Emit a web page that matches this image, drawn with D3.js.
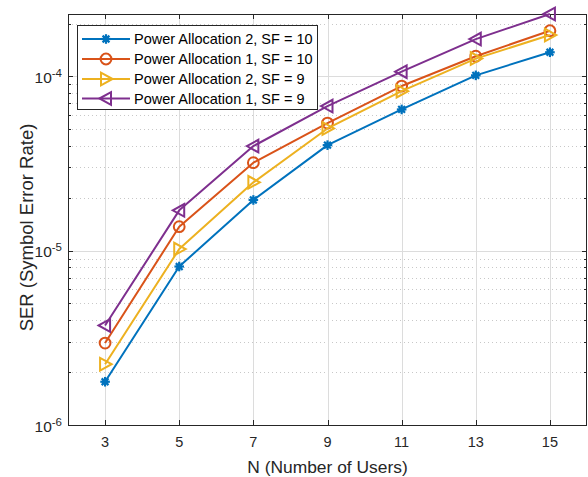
<!DOCTYPE html>
<html>
<head>
<meta charset="utf-8">
<script src="https://cdn.jsdelivr.net/npm/d3@7"></script>
<style>
  html, body { margin: 0; padding: 0; background: #fff; }
  svg { display: block; font-family: "Liberation Sans", Arial, Helvetica, sans-serif; }
</style>
</head>
<body>
<svg id="chart" width="588" height="477"></svg>
<script>
// ---- data ----
const users = [3, 5, 7, 9, 11, 13, 15];
const pa2sf10 = [1.77e-6, 8.1e-6, 1.95e-5, 4.02e-5, 6.44e-5, 1.01e-4, 1.37e-4];
const pa1sf10 = [2.95e-6, 1.37e-5, 3.19e-5, 5.38e-5, 8.77e-5, 1.30e-4, 1.82e-4];
const pa2sf9  = [2.23e-6, 1.02e-5, 2.46e-5, 5.01e-5, 8.2e-5, 1.26e-4, 1.72e-4];
const pa1sf9  = [3.72e-6, 1.70e-5, 3.97e-5, 6.73e-5, 1.06e-4, 1.63e-4, 2.27e-4];
const seriesNames = ["Power Allocation 2, SF = 10", "Power Allocation 1, SF = 10", "Power Allocation 2, SF = 9", "Power Allocation 1, SF = 9"];
const xTicks = [3, 5, 7, 9, 11, 13, 15];
const yDecades = [-6, -5, -4];
const xLabel = "N (Number of Users)";
const yLabel = "SER (Symbol Error Rate)";

const series = [
  { name: seriesNames[0], values: pa2sf10, color: "#0072BD", marker: "asterisk" },
  { name: seriesNames[1], values: pa1sf10, color: "#D95319", marker: "circle" },
  { name: seriesNames[2], values: pa2sf9,  color: "#EDB120", marker: "triRight" },
  { name: seriesNames[3], values: pa1sf9,  color: "#7E2F8E", marker: "triLeft" }
];

// ---- layout ----
const L = 68, R = 587, T = 14, B = 425;
const svg = d3.select("#chart");
const x = d3.scaleLinear().domain([2, 16]).range([L, R]);
const y = d3.scaleLog().domain([1e-6, 2.27e-4]).range([B, T]);

const axisColor = "#262626";
const gridColor = "#dcdcdc";

// grid
const g = svg.append("g");
const minorVals = [];
yDecades.forEach(d => { for (let m = 2; m <= 9; m++) { const v = m * Math.pow(10, d); if (v <= y.domain()[1]) minorVals.push(v); } });
g.selectAll(".ymin").data(minorVals).enter().append("line")
  .attr("x1", L).attr("x2", R)
  .attr("y1", d => Math.round(y(d)) + 0.5).attr("y2", d => Math.round(y(d)) + 0.5)
  .attr("stroke", "#c8c8c8").attr("stroke-width", 1).attr("stroke-dasharray", "1,3");
g.selectAll(".ymaj").data(yDecades.map(d => Math.pow(10, d))).enter().append("line")
  .attr("x1", L).attr("x2", R)
  .attr("y1", d => Math.round(y(d)) + 0.5).attr("y2", d => Math.round(y(d)) + 0.5)
  .attr("stroke", gridColor).attr("stroke-width", 1);
g.selectAll(".xmaj").data(xTicks).enter().append("line")
  .attr("y1", T).attr("y2", B)
  .attr("x1", d => Math.round(x(d)) + 0.5).attr("x2", d => Math.round(x(d)) + 0.5)
  .attr("stroke", gridColor).attr("stroke-width", 1);

// axes box
svg.append("rect").attr("x", L + 0.5).attr("y", T + 0.5).attr("width", R - L - 1).attr("height", B - T)
  .attr("fill", "none").attr("stroke", axisColor).attr("stroke-width", 1);

// ticks (inside)
const tk = svg.append("g").attr("stroke", axisColor).attr("stroke-width", 1);
xTicks.forEach(v => {
  const px = Math.round(x(v)) + 0.5;
  tk.append("line").attr("x1", px).attr("x2", px).attr("y1", B).attr("y2", B - 5);
  tk.append("line").attr("x1", px).attr("x2", px).attr("y1", T).attr("y2", T + 5);
});
yDecades.map(d => Math.pow(10, d)).forEach(v => {
  const py = Math.round(y(v)) + 0.5;
  tk.append("line").attr("x1", L).attr("x2", L + 5).attr("y1", py).attr("y2", py);
  tk.append("line").attr("x1", R).attr("x2", R - 5).attr("y1", py).attr("y2", py);
});
minorVals.forEach(v => {
  const py = Math.round(y(v)) + 0.5;
  tk.append("line").attr("x1", L).attr("x2", L + 3).attr("y1", py).attr("y2", py);
  tk.append("line").attr("x1", R).attr("x2", R - 3).attr("y1", py).attr("y2", py);
});

// tick labels
svg.selectAll(".xl").data(xTicks).enter().append("text")
  .attr("x", d => x(d)).attr("y", 447)
  .attr("text-anchor", "middle").attr("font-size", 14.5).attr("fill", axisColor)
  .text(d => d);
yDecades.forEach(d => {
  const t = svg.append("text").attr("x", 62).attr("y", y(Math.pow(10, d)) + 6.5)
    .attr("text-anchor", "end").attr("font-size", 15.5).attr("fill", axisColor);
  t.append("tspan").text("10");
  t.append("tspan").attr("dy", -6).attr("font-size", 11.5).text(String(d));
});

// axis labels
svg.append("text").attr("x", (L + R) / 2).attr("y", 473)
  .attr("text-anchor", "middle").attr("font-size", 17.4).attr("fill", axisColor).text(xLabel);
svg.append("text").attr("transform", `translate(33,${(T + B) / 2 + 8}) rotate(-90)`)
  .attr("text-anchor", "middle").attr("font-size", 18.5).attr("fill", axisColor).text(yLabel);

// markers
function drawMarker(sel, type, color, cx, cy) {
  const s = sel.append("g").attr("transform", `translate(${cx},${cy})`);
  if (type === "asterisk") {
    const r = 4.8;
    const a = r * Math.SQRT1_2;
    s.append("line").attr("x1", 0).attr("y1", -r).attr("x2", 0).attr("y2", r);
    s.append("line").attr("x1", -r).attr("y1", 0).attr("x2", r).attr("y2", 0);
    s.append("line").attr("x1", -a).attr("y1", -a).attr("x2", a).attr("y2", a);
    s.append("line").attr("x1", -a).attr("y1", a).attr("x2", a).attr("y2", -a);
    s.append("circle").attr("r", 3).attr("fill", color).attr("stroke", "none");
    s.selectAll("line").attr("stroke", color).attr("stroke-width", 2.2);
  } else if (type === "circle") {
    s.append("circle").attr("r", 5.4).attr("fill", "none").attr("stroke", color).attr("stroke-width", 2);
  } else if (type === "triRight") {
    s.append("path").attr("d", "M6.5,0 L-5,-6.3 L-5,6.3 Z").attr("fill", "none").attr("stroke", color).attr("stroke-width", 2).attr("stroke-linejoin", "miter");
  } else if (type === "triLeft") {
    s.append("path").attr("d", "M-6.5,0 L5,-6.3 L5,6.3 Z").attr("fill", "none").attr("stroke", color).attr("stroke-width", 2).attr("stroke-linejoin", "miter");
  }
}

const line = d3.line().x(d => x(d[0])).y(d => y(d[1]));
const plot = svg.append("g");
series.forEach(s => {
  const pts = users.map((u, i) => [u, s.values[i]]);
  plot.append("path").datum(pts).attr("d", line)
    .attr("fill", "none").attr("stroke", s.color).attr("stroke-width", 2).attr("stroke-linejoin", "round");
  pts.forEach(p => drawMarker(plot, s.marker, s.color, x(p[0]), y(p[1])));
});

// legend
const lg = svg.append("g");
lg.append("rect").attr("x", 77.5).attr("y", 25.5).attr("width", 240).attr("height", 84)
  .attr("fill", "#fff").attr("stroke", axisColor).attr("stroke-width", 1);
const rowY = [39, 59, 79, 98.5];
series.forEach((s, i) => {
  lg.append("line").attr("x1", 82).attr("x2", 130).attr("y1", rowY[i]).attr("y2", rowY[i])
    .attr("stroke", s.color).attr("stroke-width", 2);
  drawMarker(lg, s.marker, s.color, 106, rowY[i]);
  lg.append("text").attr("x", 134).attr("y", rowY[i] + 5).attr("font-size", 14.5).attr("fill", "#000").text(s.name);
});
</script>
</body>
</html>
